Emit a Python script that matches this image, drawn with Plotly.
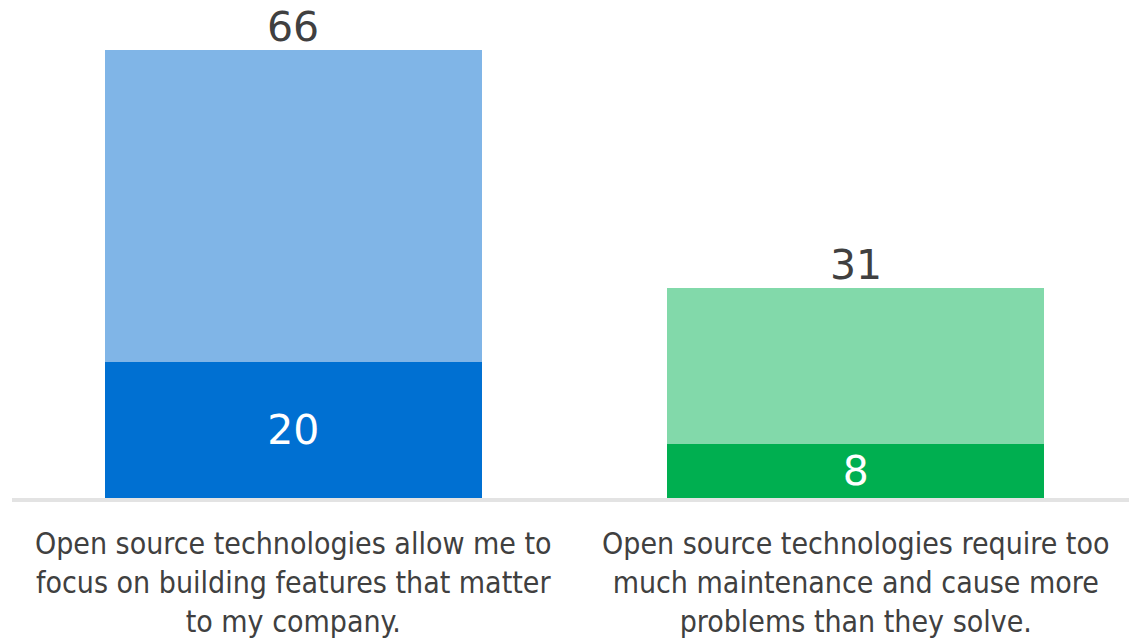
import plotly.graph_objects as go

categories = [
    "Open source technologies allow me to<br>focus on building features that matter<br>to my company.",
    "Open source technologies require too<br>much maintenance and cause more<br>problems than they solve.",
]
strong_values = [20, 8]
total_values = [66, 31]
rest_values = [t - s for t, s in zip(total_values, strong_values)]

dark_colors = ["#0070d2", "#00af50"]
light_colors = ["#80b5e7", "#82d9aa"]

num_font = "DejaVu Sans, sans-serif"

fig = go.Figure()
fig.add_trace(go.Bar(
    x=categories, y=strong_values, marker=dict(color=dark_colors, line=dict(width=0)),
    text=[str(v) for v in strong_values], textposition="inside", insidetextanchor="middle",
    textfont=dict(family=num_font, size=41, color="white"), textangle=0,
    hoverinfo="skip",
))
fig.add_trace(go.Bar(
    x=categories, y=rest_values, marker=dict(color=light_colors, line=dict(width=0)),
    hoverinfo="skip",
))
for c, t in zip(categories, total_values):
    fig.add_annotation(x=c, y=t, text=str(t), showarrow=False, yanchor="bottom", yshift=-3,
                       font=dict(family=num_font, size=41, color="#404040"))

fig.update_layout(
    barmode="stack", bargap=0.33, showlegend=False,
    width=1129, height=631,
    margin=dict(l=4, r=0, t=12, b=141, autoexpand=False),
    paper_bgcolor="white", plot_bgcolor="white",
    uniformtext=dict(mode=False),
)
fig.update_xaxes(showline=True, linecolor="#e3e3e3", linewidth=4, ticks="", showgrid=False,
                 automargin=False, ticklabelstandoff=16,
                 tickfont=dict(family="DejaVu Sans Condensed, Liberation Sans Narrow, sans-serif", size=30, color="#404040"))
fig.update_yaxes(visible=False, range=[0, 70.4], automargin=False)

fig.write_html("out.html")
